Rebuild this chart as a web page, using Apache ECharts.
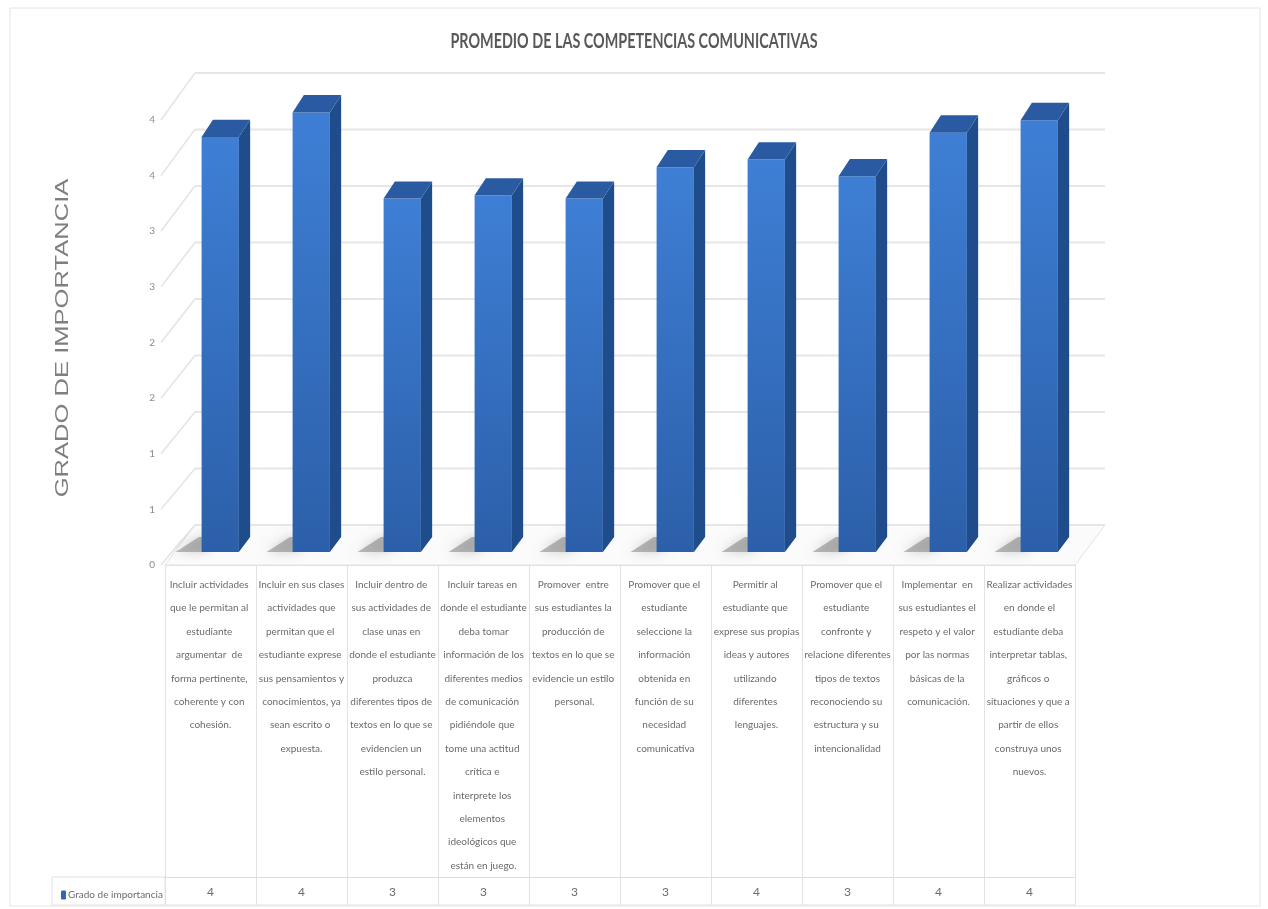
<!DOCTYPE html>
<html>
<head>
<meta charset="utf-8">
<script src="https://cdn.jsdelivr.net/npm/echarts@6/dist/echarts.min.js"></script>
<style>
html,body{margin:0;padding:0;background:#fff;}
#chart{width:1268px;height:909px;}
</style>
</head>
<body>
<div id="chart"></div>
<script>
const categories = [
  'Incluir actividades que le permitan al estudiante argumentar  de forma pertinente, coherente y con cohesión.',
  'Incluir en sus clases actividades que permitan que el estudiante exprese sus pensamientos y conocimientos, ya sean escrito o expuesta.',
  'Incluir dentro de sus actividades de clase unas en donde el estudiante produzca diferentes tipos de textos en lo que se evidencien un estilo personal.',
  'Incluir tareas en donde el estudiante deba tomar información de los diferentes medios de comunicación pidiéndole que tome una actitud crítica e interprete los elementos ideológicos que están en juego.',
  'Promover  entre sus estudiantes la producción de textos en lo que se evidencie un estilo personal.',
  'Promover que el estudiante seleccione la información obtenida en función de su necesidad comunicativa',
  'Permitir al estudiante que exprese sus propias ideas y autores utilizando diferentes lenguajes.',
  'Promover que el estudiante confronte y relacione diferentes tipos de textos reconociendo su estructura y su intencionalidad',
  'Implementar  en sus estudiantes el respeto y el valor por las normas básicas de la comunicación.',
  'Realizar actividades en donde el estudiante deba interpretar tablas, gráficos o situaciones y que a partir de ellos construya unos nuevos.'
];
const values = [3.71, 3.93, 3.16, 3.19, 3.16, 3.44, 3.51, 3.36, 3.75, 3.86];
const valueLabels = values.map(v => String(Math.round(v)));
const yTicks = [0, 0.5, 1, 1.5, 2, 2.5, 3, 3.5, 4];
const yTickLabels = ['0', '1', '1', '2', '2', '3', '3', '4', '4'];
const seriesName = 'Grado de importancia';
const chartTitle = 'PROMEDIO DE LAS COMPETENCIAS COMUNICATIVAS';
const yAxisTitle = 'GRADO DE IMPORTANCIA';

const NARROW = "Lato,'Liberation Sans',sans-serif";
const DX = 30, DY = 40, K = 0.016;

function proj(cs, xf, yf, t) {
  const y0 = cs.y + cs.height;
  const h = y0 - yf;
  return [xf + DX * t, y0 - DY * t - h * (1 + K * t)];
}

const chart = echarts.init(document.getElementById('chart'));

const option = {
  backgroundColor: '#ffffff',
  animation: false,
  legend: {
    data: [seriesName],
    left: 56,
    top: 885,
    itemWidth: 5,
    itemHeight: 9,
    itemGap: 2,
    textStyle: { fontFamily: NARROW, fontSize: 10, color: '#6b6b6b', padding: [0, 0, 0, -3] }
  },
  grid: { left: 165, right: 193, top: 120, bottom: 344, containLabel: false, outerBoundsMode: 'none' },
  xAxis: [
    {
      type: 'category', data: categories, position: 'bottom',
      axisLine: { show: false }, axisTick: { show: false }, axisLabel: { show: false }, splitLine: { show: false }
    },
    {
      type: 'category', data: categories, position: 'bottom', offset: 0,
      axisLine: { show: true, lineStyle: { color: '#dedede', width: 1 } },
      axisTick: { show: true, interval: 0, length: 312, lineStyle: { color: '#e2e2e2' } },
      axisLabel: {
        interval: 0, margin: 8, width: 87, overflow: 'break', lineHeight: 23.4,
        fontFamily: NARROW, fontSize: 10, color: '#6b6b6b', align: 'center', verticalAlign: 'top'
      }
    },
    {
      type: 'category', data: valueLabels, position: 'bottom', offset: 312,
      axisLine: { show: true, lineStyle: { color: '#dedede', width: 1 } },
      axisTick: { show: true, interval: 0, length: 28, lineStyle: { color: '#e2e2e2' } },
      axisLabel: { interval: 0, margin: 9, fontFamily: NARROW, fontSize: 12, color: '#6b6b6b' }
    }
  ],
  yAxis: {
    type: 'value', min: 0, max: 4, interval: 0.5,
    axisLine: { show: false }, axisTick: { show: false }, splitLine: { show: false },
    axisLabel: {
      margin: 10, fontFamily: NARROW, fontSize: 10, color: '#8c8c8c',
      formatter: (val, idx) => yTickLabels[idx]
    }
  },
  graphic: [
    { type: 'rect', shape: { x: 10, y: 8, width: 1250, height: 898 }, style: { fill: 'none', stroke: '#e4e4e4', lineWidth: 1 }, z: -10 },
    { type: 'rect', shape: { x: 52, y: 877, width: 113, height: 28 }, style: { fill: 'none', stroke: '#e2e2e2', lineWidth: 1 }, z: -5 },
    { type: 'line', shape: { x1: 165, y1: 905, x2: 1075, y2: 905 }, style: { stroke: '#e2e2e2', lineWidth: 1 }, z: -5 },
    {
      type: 'text', x: 634, y: 41, scaleX: 0.685,
      style: { text: chartTitle, fontFamily: NARROW, fontSize: 21, fontWeight: 'bold', fill: '#595959', textAlign: 'center', textVerticalAlign: 'middle' }
    },
    {
      type: 'text', x: 63, y: 338, rotation: Math.PI / 2, scaleX: 1.42,
      style: { text: yAxisTitle, fontFamily: "'Liberation Sans',sans-serif", fontSize: 18, fill: '#7f7f7f', textAlign: 'center', textVerticalAlign: 'middle' }
    }
  ],
  series: [
    {
      type: 'custom',
      name: 'walls',
      xAxisIndex: 0, yAxisIndex: 0,
      z: 1, silent: true,
      data: yTicks.map(v => [0, v]),
      encode: { x: 0, y: 1 },
      renderItem: function (params, api) {
        const cs = params.coordSys;
        const v = api.value(1);
        const yf = api.coord([0, v])[1];
        const xL = cs.x, xR = cs.x + cs.width;
        const a = proj(cs, xL - 4, yf, 0);
        const b = proj(cs, xL, yf, 1);
        const c = proj(cs, xR, yf, 1);
        const children = [
          { type: 'line', shape: { x1: a[0], y1: a[1], x2: b[0], y2: b[1] }, style: { stroke: '#e3e3e3', lineWidth: 1.5 } },
          { type: 'line', shape: { x1: b[0], y1: b[1], x2: c[0], y2: c[1] }, style: { stroke: '#e6e6e6', lineWidth: 2 } }
        ];
        if (v === 0) {
          const y0 = cs.y + cs.height;
          const p1 = proj(cs, xL, y0, 0), p2 = proj(cs, xR, y0, 0), p3 = proj(cs, xR, y0, 1), p4 = proj(cs, xL, y0, 1);
          children.unshift({ type: 'polygon', shape: { points: [p1, p2, p3, p4] }, style: { fill: '#fbfbfb', stroke: '#e3e3e3', lineWidth: 1 } });
        }
        return { type: 'group', children: children };
      }
    },
    {
      type: 'custom',
      name: seriesName,
      xAxisIndex: 0, yAxisIndex: 0,
      z: 2,
      itemStyle: { color: '#2f67b8' },
      data: values.map((v, i) => [i, v]),
      encode: { x: 0, y: 1 },
      renderItem: function (params, api) {
        const cs = params.coordSys;
        const ci = api.value(0), v = api.value(1);
        const base = api.coord([ci, 0]);
        const top = api.coord([ci, v]);
        const bw = api.size([1, 0])[0] * 0.41;
        const xl = base[0] - bw / 2, xr = base[0] + bw / 2;
        const t0 = 0.325, t1 = 0.7;
        const FBL = proj(cs, xl, base[1], t0), FBR = proj(cs, xr, base[1], t0);
        const FTL = proj(cs, xl, top[1], t0), FTR = proj(cs, xr, top[1], t0);
        const BTL = proj(cs, xl, top[1], t1), BTR = proj(cs, xr, top[1], t1);
        const BBR = proj(cs, xr, base[1], t1);
        const S1 = proj(cs, xl - 26, base[1], t0), S2 = proj(cs, xl + 4, base[1], t0);
        const S3 = proj(cs, xl + 4, base[1], t1), S4 = proj(cs, xl - 14, base[1], t1);
        return {
          type: 'group',
          children: [
            { type: 'polygon', shape: { points: [S1, S2, S3, S4] },
              style: { fill: 'rgba(120,120,120,0.5)', shadowBlur: 12, shadowColor: 'rgba(0,0,0,0.35)' } },
            { type: 'polygon', shape: { points: [FBL, FBR, FTR, FTL] },
              style: { fill: new echarts.graphic.LinearGradient(0, 0, 0, 1, [
                { offset: 0, color: '#3e7fd5' }, { offset: 1, color: '#2c5fa9' }]) } },
            { type: 'polygon', shape: { points: [FBR, BBR, BTR, FTR] }, style: { fill: '#1f4d8b' } },
            { type: 'polygon', shape: { points: [FTL, FTR, BTR, BTL] }, style: { fill: '#2a5ba2' } }
          ]
        };
      }
    }
  ]
};
chart.setOption(option);
</script>
</body>
</html>
